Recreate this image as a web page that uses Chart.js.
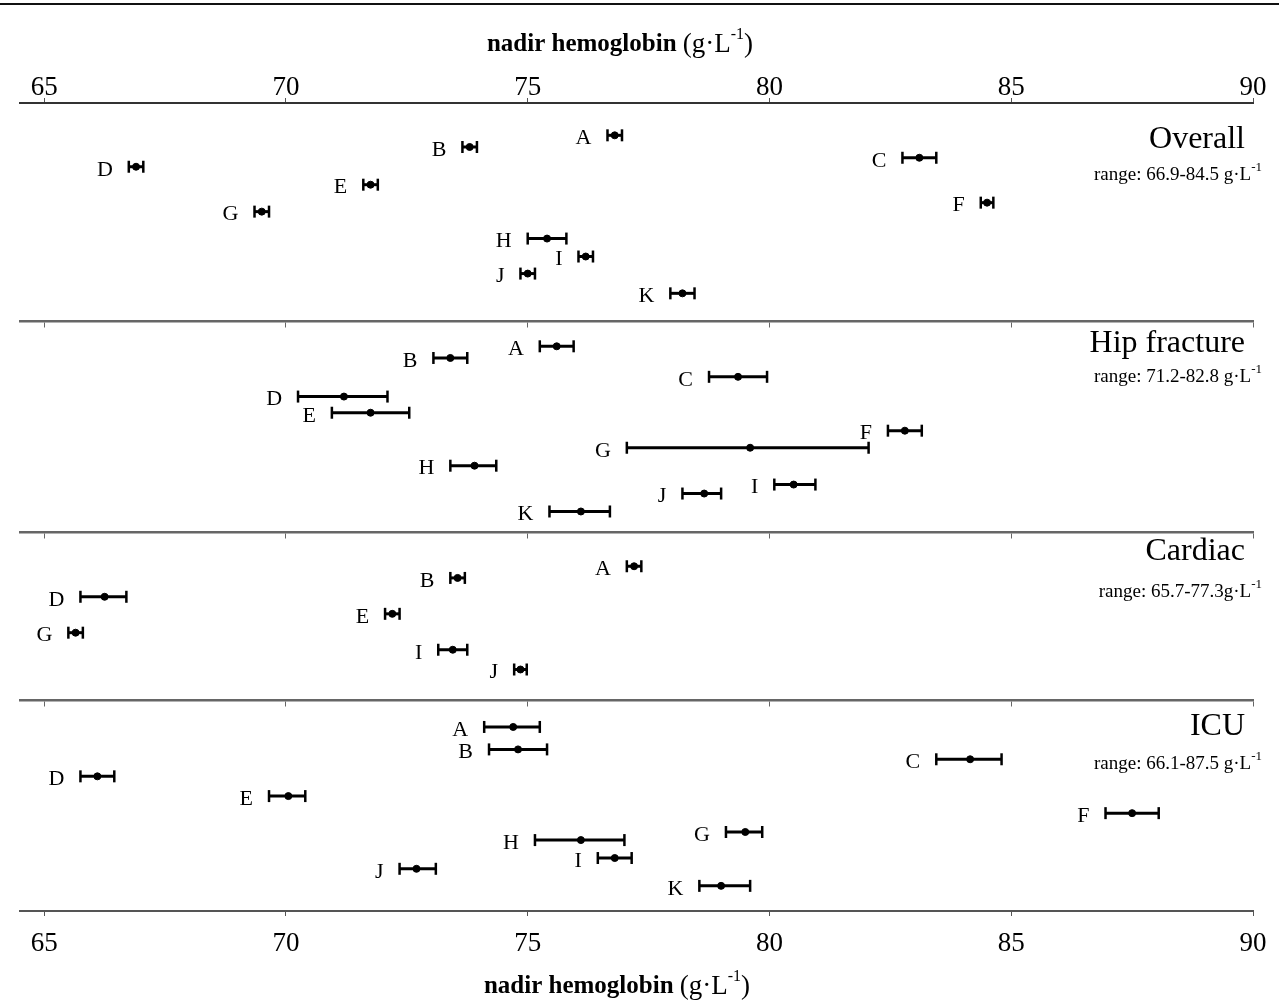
<!DOCTYPE html>
<html>
<head>
<meta charset="utf-8">
<script src="https://cdn.jsdelivr.net/npm/chart.js@4"></script>
<style>
  html, body { margin: 0; padding: 0; background: #fff; }
  #wrap { position: relative; width: 1279px; height: 1001px; }
  #topRule { position: absolute; left: 0; top: 3px; width: 1279px; height: 2px; background: #111; }
  canvas { position: absolute; left: 0; top: 0; }
</style>
</head>
<body>
<div id="wrap">
  <div id="topRule"></div>
  <canvas id="chart" width="1279" height="1001"></canvas>
</div>
<script>
// tick labels on the hemoglobin axis
const xTicks = [65, 70, 75, 80, 85, 90];

// panels
const panelNames = ['Overall', 'Hip fracture', 'Cardiac', 'ICU'];
const panelRanges = ['range: 66.9-84.5 g\u00b7L', 'range: 71.2-82.8 g\u00b7L', 'range: 65.7-77.3g\u00b7L', 'range: 66.1-87.5 g\u00b7L'];
// vertical slots: 0 = top axis, 90 = bottom axis
const panelStart = [0, 24.3, 47.8, 66.5];
const panelTitleRow = [3.8, 26.6, 49.7, 69.2];
const panelRangeRow = [7.8, 30.3, 54.2, 73.4];

// Overall
const overallLabels = ['A','B','C','D','E','F','G','H','I','J','K'];
const overallRow  = [3.6, 4.9, 6.1, 7.1, 9.1, 11.1, 12.1, 15.1, 17.1, 19.0, 21.2];
const overallMean = [76.8, 73.8, 83.1, 66.9, 71.75, 84.5, 69.5, 75.4, 76.2, 75.0, 78.2];
const overallLow  = [76.65, 73.65, 82.75, 66.75, 71.6, 84.37, 69.35, 75.0, 76.05, 74.85, 77.95];
const overallHigh = [76.95, 73.95, 83.45, 67.05, 71.9, 84.63, 69.65, 75.8, 76.35, 75.15, 78.45];

// Hip fracture
const hipLabels = ['A','B','C','D','E','F','G','H','I','J','K'];
const hipRow  = [2.8, 4.1, 6.2, 8.4, 10.2, 12.2, 14.1, 16.1, 18.2, 19.2, 21.2];
const hipMean = [75.6, 73.4, 79.35, 71.2, 71.75, 82.8, 79.6, 73.9, 80.5, 78.65, 76.1];
const hipLow  = [75.25, 73.05, 78.75, 70.25, 70.95, 82.45, 77.05, 73.4, 80.1, 78.2, 75.45];
const hipHigh = [75.95, 73.75, 79.95, 72.1, 72.55, 83.15, 82.05, 74.35, 80.95, 79.0, 76.7];

// Cardiac
const cardLabels = ['A','B','D','E','G','I','J'];
const cardRow  = [3.8, 5.1, 7.2, 9.1, 11.2, 13.1, 15.3];
const cardMean = [77.2, 73.55, 66.25, 72.2, 65.65, 73.45, 74.85];
const cardLow  = [77.05, 73.4, 65.75, 72.05, 65.5, 73.15, 74.72];
const cardHigh = [77.35, 73.7, 66.7, 72.35, 65.8, 73.75, 74.98];

// ICU
const icuLabels = ['A','B','C','D','E','F','G','H','I','J','K'];
const icuRow  = [3.0, 5.5, 6.6, 8.5, 10.7, 12.6, 14.7, 15.6, 17.6, 18.8, 20.7];
const icuMean = [74.7, 74.8, 84.15, 66.1, 70.05, 87.5, 79.5, 76.1, 76.8, 72.7, 79.0];
const icuLow  = [74.1, 74.2, 83.45, 65.75, 69.65, 86.95, 79.1, 75.15, 76.45, 72.35, 78.55];
const icuHigh = [75.25, 75.4, 84.8, 66.45, 70.4, 88.05, 79.85, 77.0, 77.15, 73.1, 79.6];

const panels = [
  { labels: overallLabels, row: overallRow, mean: overallMean, low: overallLow, high: overallHigh },
  { labels: hipLabels, row: hipRow, mean: hipMean, low: hipLow, high: hipHigh },
  { labels: cardLabels, row: cardRow, mean: cardMean, low: cardLow, high: cardHigh },
  { labels: icuLabels, row: icuRow, mean: icuMean, low: icuLow, high: icuHigh }
];

const SERIF = '"Liberation Serif", "DejaVu Serif", serif';

// build datasets: one whisker line per row + one set of mean dots
const datasets = [];
const means = [];
panels.forEach((p, i) => {
  p.labels.forEach((lab, j) => {
    const yv = panelStart[i] + p.row[j];
    datasets.push({
      showLine: true,
      data: [{ x: p.low[j], y: yv }, { x: p.high[j], y: yv }],
      borderColor: '#000',
      borderWidth: 3,
      pointStyle: 'line',
      rotation: 90,
      pointRadius: 6,
      pointBorderWidth: 2.5,
      pointBorderColor: '#000',
      xAxisID: 'x', yAxisID: 'y'
    });
    means.push({ x: p.mean[j], y: yv });
  });
});
datasets.push({
  data: means,
  pointStyle: 'circle',
  pointRadius: 3.5,
  backgroundColor: '#000',
  borderColor: '#000',
  xAxisID: 'x', yAxisID: 'y'
});

function setTicks(s) { s.ticks = xTicks.map(v => ({ value: v })); }

function sepAxis(v) {
  return {
    type: 'linear', axis: 'x', min: 64.5, max: 90,
    position: { y: v },
    afterBuildTicks: setTicks,
    ticks: { display: false },
    border: { color: '#666', width: 2.5 },
    grid: { drawOnChartArea: false, tickLength: 5, color: '#666', lineWidth: 1 }
  };
}

// axis title with bold words and superscript unit
function axisTitle(ctx, cx, cy) {
  const bold = 'bold 25px ' + SERIF, reg = '27px ' + SERIF, sup = '16px ' + SERIF;
  const parts = [
    { t: 'nadir hemoglobin ', f: bold, dy: 0 },
    { t: '(g\u00b7L', f: reg, dy: 0 },
    { t: '-1', f: sup, dy: -10 },
    { t: ')', f: reg, dy: 0 }
  ];
  let w = 0;
  parts.forEach(p => { ctx.font = p.f; p.w = ctx.measureText(p.t).width; w += p.w; });
  let x = cx - w / 2;
  ctx.textAlign = 'left';
  ctx.textBaseline = 'middle';
  parts.forEach(p => { ctx.font = p.f; ctx.fillText(p.t, x, cy + p.dy); x += p.w; });
}

const annotate = {
  id: 'annotate',
  afterDraw(chart) {
    const { ctx, chartArea } = chart;
    const xs = chart.scales.x, ys = chart.scales.y;
    ctx.save();
    ctx.fillStyle = '#000';
    panels.forEach((p, i) => {
      // letters
      ctx.font = '22px ' + SERIF;
      ctx.textAlign = 'right';
      ctx.textBaseline = 'middle';
      p.labels.forEach((lab, j) => {
        ctx.fillText(lab, xs.getPixelForValue(p.low[j]) - 16, ys.getPixelForValue(panelStart[i] + p.row[j]) + 3);
      });
      // panel title
      ctx.font = '32px ' + SERIF;
      ctx.fillText(panelNames[i], chartArea.right - 8, ys.getPixelForValue(panelTitleRow[i]) + 2);
      // range text with superscript
      const ry = ys.getPixelForValue(panelRangeRow[i]) + 2;
      const right = chartArea.right + 9;
      ctx.font = '13px ' + SERIF;
      const sw = ctx.measureText('-1').width;
      ctx.fillText('-1', right, ry - 7);
      ctx.font = '19px ' + SERIF;
      ctx.fillText(panelRanges[i], right - sw, ry);
    });
    axisTitle(ctx, 620, 45);
    axisTitle(ctx, 617, 987);
    ctx.restore();
  }
};

new Chart(document.getElementById('chart'), {
  type: 'scatter',
  data: { datasets },
  options: {
    responsive: false,
    animation: false,
    devicePixelRatio: 1,
    layout: { padding: { left: 20, right: 26, top: 48.4, bottom: 28.6 } },
    plugins: { legend: { display: false }, tooltip: { enabled: false } },
    scales: {
      x: {
        type: 'linear', min: 64.5, max: 90, position: 'top',
        afterBuildTicks: setTicks,
        // empty title only reserves room above the tick labels
        title: { display: true, text: '', padding: 0, font: { family: SERIF, size: 25, lineHeight: 1.2 } },
        ticks: { color: '#000', padding: -1, maxRotation: 0, font: { family: SERIF, size: 27, lineHeight: 0.8 } },
        border: { color: '#333', width: 2 },
        grid: { drawOnChartArea: false, tickLength: 5, color: '#555', lineWidth: 1 }
      },
      xb: {
        type: 'linear', axis: 'x', min: 64.5, max: 90, position: 'bottom',
        afterBuildTicks: setTicks,
        ticks: { color: '#000', padding: 12, maxRotation: 0, font: { family: SERIF, size: 27 } },
        border: { color: '#555', width: 2 },
        grid: { drawOnChartArea: false, tickLength: 5, color: '#555', lineWidth: 1 }
      },
      s1: sepAxis(panelStart[1]),
      s2: sepAxis(panelStart[2]),
      s3: sepAxis(panelStart[3]),
      y: { type: 'linear', min: 0, max: 90, reverse: true, display: false }
    }
  },
  plugins: [annotate]
});
</script>
</body>
</html>
